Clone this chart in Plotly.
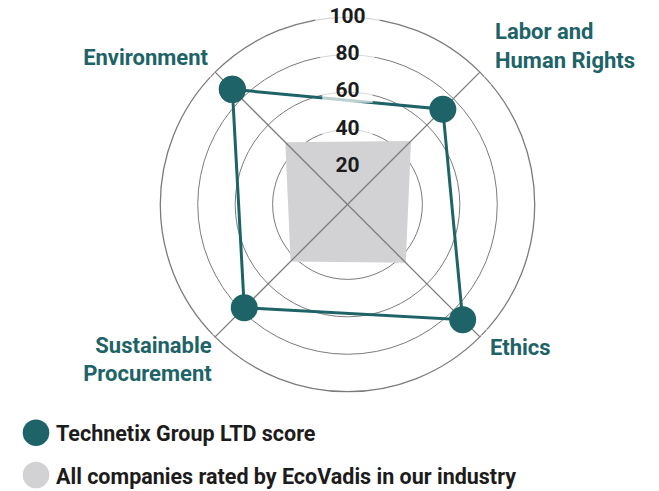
import plotly.graph_objects as go

# The page body has an 8px margin; size and place everything in figure pixels.
OFF = 8
W, H = 659 - OFF, 491 - OFF

categories = ["Environment", "Labor and<br>Human Rights", "Ethics", "Sustainable<br>Procurement"]
category_angles = [0, 90, 180, 270]
company_scores = [87, 72, 87, 78]
industry_scores = [47, 48, 44, 43]
radial_ticks = [20, 40, 60, 80, 100]
radial_tick_labels = ["20", "40", "60", "80", "100"]
legend_labels = ["Technetix Group LTD score", "All companies rated by EcoVadis in our industry"]

TEAL = "#1d6367"
GRAY_FILL = "#d2d2d4"
GRID = "#7b7b7b"
INK = "#1c1c1c"
FONT = "Roboto"

fig = go.Figure()

# industry polygon
fig.add_trace(go.Scatterpolar(
    r=industry_scores + industry_scores[:1],
    theta=category_angles + category_angles[:1],
    mode="lines", fill="toself", fillcolor=GRAY_FILL,
    line=dict(width=0, color=GRAY_FILL), hoverinfo="skip", showlegend=False))

# diagonal spokes above the fill
fig.add_trace(go.Scatterpolar(
    r=[100, 0, 100, None, 100, 0, 100],
    theta=[0, 0, 180, None, 90, 90, 270],
    mode="lines", line=dict(color=GRID, width=1.3),
    hoverinfo="skip", showlegend=False))

# company polygon
fig.add_trace(go.Scatterpolar(
    r=company_scores + company_scores[:1],
    theta=category_angles + category_angles[:1],
    mode="lines+markers",
    line=dict(color=TEAL, width=3),
    marker=dict(size=27, color=TEAL),
    showlegend=False))

# radial tick labels with white backing
fig.add_trace(go.Scatterpolar(
    r=radial_ticks, theta=[45] * len(radial_ticks),
    mode="markers+text", text=radial_tick_labels,
    textposition="middle center",
    textfont=dict(family=FONT, size=21, color=INK, weight="bold"),
    marker=dict(symbol="line-ew", size=[0, 36, 36, 39, 46], color="white",
                line=dict(color="white", width=21)),
    cliponaxis=False, hoverinfo="skip", showlegend=False))

# category labels (anchored on the outer ring, offset by invisible markers)
label_theta = [358.8, 93.5, 178.2, 270.9]
label_offset = [5.4, 10.1, 7.9, 0.6]
label_pos = ["top left", "top right", "bottom right", "bottom left"]
fig.add_trace(go.Scatterpolar(
    r=[100] * 4, theta=label_theta, mode="markers+text", text=categories,
    textposition=label_pos,
    marker=dict(size=label_offset, color="rgba(0,0,0,0)"),
    textfont=dict(family=FONT, size=22, color=TEAL, weight="bold"),
    cliponaxis=False, hoverinfo="skip", showlegend=False))

cx, cy, R = 347.5 - OFF, 204.5 - OFF, 187.2
fig.update_layout(
    width=W, height=H,
    margin=dict(l=0, r=0, t=0, b=0),
    paper_bgcolor="white",
    polar=dict(
        domain=dict(x=[(cx - R) / W, (cx + R) / W], y=[1 - (cy + R) / H, 1 - (cy - R) / H]),
        bgcolor="white",
        angularaxis=dict(rotation=135, direction="clockwise", thetaunit="degrees",
                         tickvals=category_angles, showticklabels=False, ticks="",
                         showgrid=False, showline=True, linecolor=GRID, linewidth=1.3,
                         layer="below traces"),
        radialaxis=dict(range=[0, 100], tickvals=radial_ticks[:-1], showgrid=True,
                        gridcolor=GRID, gridwidth=1.3, showline=False,
                        showticklabels=False, ticks="", layer="below traces"),
    ),
    showlegend=False,
)

# custom legend
legend_colors = [TEAL, GRAY_FILL]
legend_y = [432.7 - OFF, 475 - OFF]
lx = 36 - OFF
for lbl, col, py in zip(legend_labels, legend_colors, legend_y):
    d = 13.3
    fig.add_shape(type="circle", xref="paper", yref="paper",
                  x0=(lx - d) / W, x1=(lx + d) / W,
                  y0=1 - (py + d) / H, y1=1 - (py - d) / H,
                  fillcolor=col, line=dict(width=0))
    fig.add_annotation(xref="paper", yref="paper", x=(54 - OFF) / W, y=1 - (py + 1) / H,
                       xanchor="left", yanchor="middle", showarrow=False,
                       text=lbl, font=dict(family=FONT, size=21.5, color=INK, weight="bold"))

fig.write_html("out.html")
